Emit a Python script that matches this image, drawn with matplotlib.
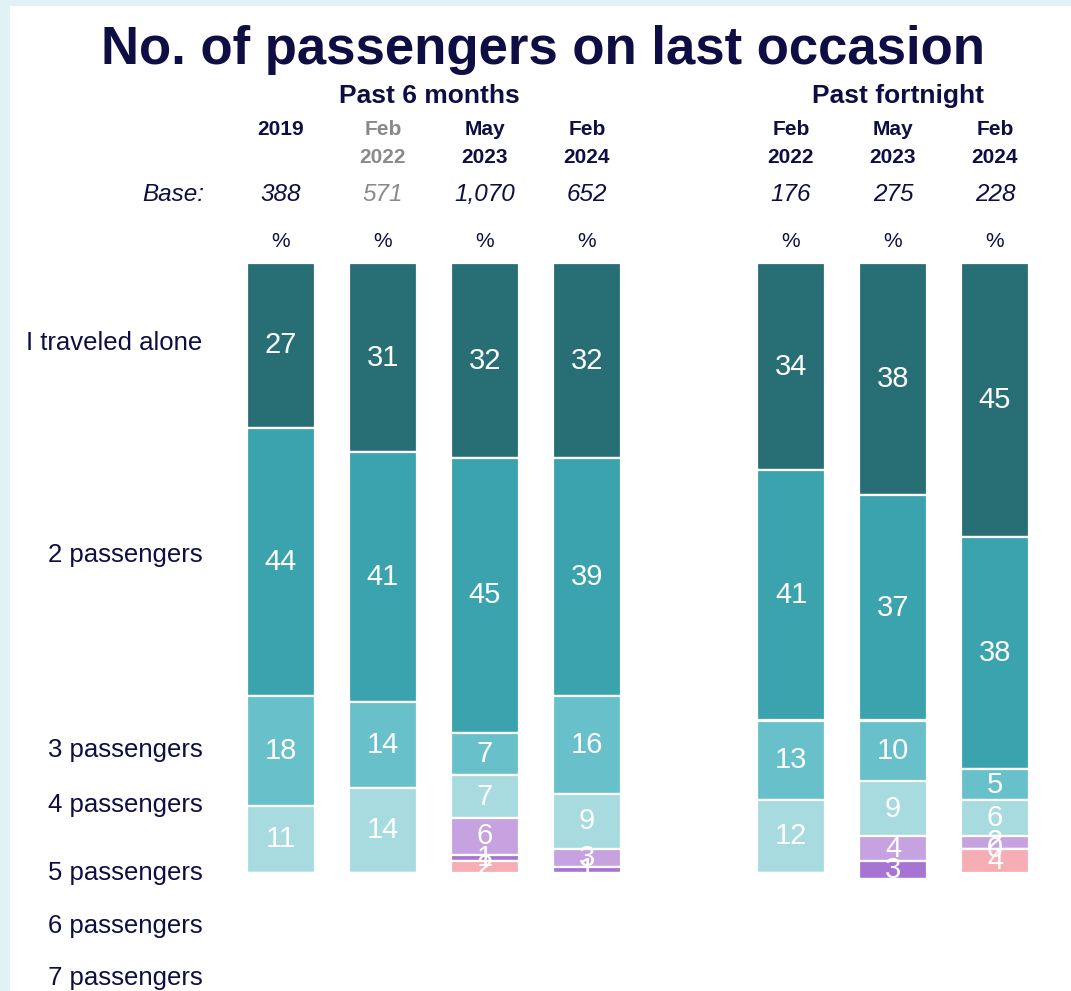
import matplotlib.pyplot as plt
import numpy as np
from matplotlib.patches import Rectangle

plt.rcParams['font.family'] = ['Liberation Sans', 'DejaVu Sans']

categories = ["I traveled alone", "2 passengers", "3 passengers", "4 passengers",
              "5 passengers", "6 passengers", "7 passengers"]
col_top = ["2019", "Feb", "May", "Feb", "Feb", "May", "Feb"]
col_bottom = ["", "2022", "2023", "2024", "2022", "2023", "2024"]
bases = ["388", "571", "1,070", "652", "176", "275", "228"]
periods = ["Past 6 months", "Past fortnight"]

nan = np.nan
# one row per category, one column per survey wave (nan = not shown)
values = np.array([
    [27, 31, 32, 32, 34, 38, 45],
    [44, 41, 45, 39, 41, 37, 38],
    [18, 14,  7, 16, 13, 10,  5],
    [11, 14,  7,  9, 12,  9,  6],
    [nan, nan, 6,  3, nan, 4,  2],
    [nan, nan, 1,  1, nan, 3,  0],
    [nan, nan, 2, nan, nan, nan, 4],
])

colors = ["#276E75", "#3BA3AE", "#68C1CA", "#A7DBE0", "#C6A2E0", "#A874D4", "#F5AEB4"]
navy = "#0E0E45"
grey = "#8A8A8A"

xpos = np.array([0, 1, 2, 3, 5, 6, 7])
# y in percent from the top of the bars; 6.1 px per percent
px = 6.1
ytop = 263

def ypix(p):
    return (p - ytop) / px

fig = plt.figure(figsize=(10.71, 9.91), dpi=100)
fig.patch.set_facecolor("#E1F2F5")
fig.add_artist(Rectangle((10 / 1071, 0), 1, 1 - 6 / 991, transform=fig.transFigure,
                         facecolor="white", edgecolor="none", zorder=0))
ax = fig.add_axes([0, 0, 1, 1])
ax.set_facecolor("none")
ax.set_xlim(-281 / 102, (1071 - 281) / 102)
ax.set_ylim(ypix(991), ypix(0))
ax.axis("off")

bottoms = np.zeros(len(xpos))
for i, cat in enumerate(categories):
    v = np.nan_to_num(values[i])
    ax.bar(xpos, v, bottom=bottoms, width=0.66, color=colors[i],
           edgecolor="white", linewidth=1.6, align="center")
    for j, x in enumerate(xpos):
        if not np.isnan(values[i, j]):
            ax.text(x, bottoms[j] + v[j] / 2, f"{int(values[i, j])}", color="white",
                    fontsize=21, ha="center", va="center")
    bottoms += v

# row labels
label_y = [343, 555, 750, 805, 873, 926, 978]
for cat, yp in zip(categories, label_y):
    ax.text(-0.77, ypix(yp), cat, ha="right", va="center", fontsize=18.5, color=navy)

# column headers
for j, x in enumerate(xpos):
    c = grey if j == 1 else navy
    ax.text(x, ypix(130), col_top[j], ha="center", va="center", fontsize=15,
            fontweight="bold", color=c)
    if col_bottom[j]:
        ax.text(x, ypix(158), col_bottom[j], ha="center", va="center", fontsize=15,
                fontweight="bold", color=c)
    ax.text(x, ypix(195), bases[j], ha="center", va="center", fontsize=17.5,
            style="italic", color=c)
    ax.text(x, ypix(242), "%", ha="center", va="center", fontsize=15, color=navy)
ax.text(-0.75, ypix(195), "Base:", ha="right", va="center", fontsize=17.5,
        style="italic", color=navy)

ax.text(1.45, ypix(96), periods[0], ha="center", va="center", fontsize=19,
        fontweight="bold", color=navy)
ax.text(6.05, ypix(96), periods[1], ha="center", va="center", fontsize=19,
        fontweight="bold", color=navy)

ax.text(2.57, ypix(50), "No. of passengers on last occasion", ha="center", va="center",
        fontsize=38, fontweight="bold", color=navy,
        family=["Liberation Sans Narrow", "Liberation Sans", "DejaVu Sans"])

fig.savefig("out.png", dpi=100, facecolor=fig.get_facecolor())
